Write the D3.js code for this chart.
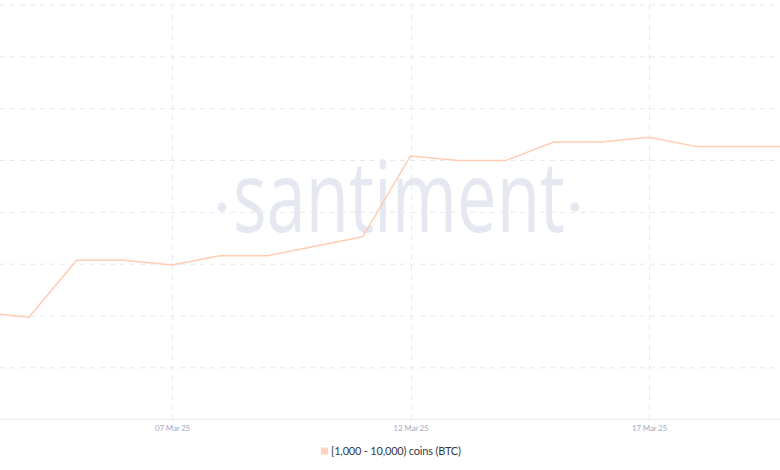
<!DOCTYPE html>
<html>
<head>
<meta charset="utf-8">
<script src="https://cdn.jsdelivr.net/npm/d3@7/dist/d3.min.js"></script>
<style>
  html, body { margin: 0; padding: 0; background: #ffffff; }
  svg { display: block; }
</style>
</head>
<body>
<svg id="chart" width="780" height="470"></svg>
<script>
// ---- data ----
const dates = ["2025-03-03","2025-03-04","2025-03-05","2025-03-06","2025-03-07","2025-03-08",
               "2025-03-09","2025-03-10","2025-03-11","2025-03-12","2025-03-13","2025-03-14",
               "2025-03-15","2025-03-16","2025-03-17","2025-03-18","2025-03-19","2025-03-20"];
const holders = [1970.35, 1969.88, 1975.38, 1975.38, 1974.92, 1975.82,
                 1975.82, 1976.74, 1977.65, 1985.44, 1984.99, 1984.99,
                 1986.79, 1986.79, 1987.24, 1986.34, 1986.34, 1986.34];
const tickDates = ["2025-03-07", "2025-03-12", "2025-03-17"];
const seriesName = "[1,000 - 10,000) coins (BTC)";
const yDomain = [1960, 2000];
const yTicks = [1960, 1965, 1970, 1975, 1980, 1985, 1990, 1995, 2000];

// ---- layout ----
const W = 780, H = 470;
const plotTop = 5, plotBottom = 419.7;
const lineColor = "#ffcdb2";
const gridColor = "#e6e8ef";

const svg = d3.select("#chart");
const parse = d3.utcParse("%Y-%m-%d");
const data = dates.map((d, i) => ({ date: parse(d), value: holders[i] }));

const x = d3.scaleUtc()
  .domain([Date.UTC(2025, 2, 3, 9, 27), Date.UTC(2025, 2, 19, 17, 54)])
  .range([0, W]);
const y = d3.scaleLinear().domain(yDomain).range([plotBottom, plotTop]);

svg.append("defs").append("clipPath").attr("id", "clip")
  .append("rect").attr("x", 0).attr("y", 0).attr("width", W).attr("height", plotBottom);

// horizontal grid
svg.append("g").selectAll("line").data(yTicks.slice(1)).join("line")
  .attr("x1", 0).attr("x2", W)
  .attr("y1", d => y(d)).attr("y2", d => y(d))
  .attr("stroke", gridColor).attr("stroke-width", 1)
  .attr("stroke-dasharray", "5,5");

// vertical grid
svg.append("g").selectAll("line").data(tickDates.map(parse)).join("line")
  .attr("x1", d => Math.round(x(d)) + 0.5).attr("x2", d => Math.round(x(d)) + 0.5)
  .attr("y1", plotTop).attr("y2", plotBottom)
  .attr("stroke", gridColor).attr("stroke-width", 1)
  .attr("stroke-dasharray", "5,5");

// watermark
const wm = svg.append("g").attr("fill", "#e5e8f1");
wm.append("text")
  .attr("x", 233).attr("y", 232)
  .attr("font-family", "'Open Sans', sans-serif")
  .attr("font-weight", 400)
  .attr("font-size", 98)
  .attr("textLength", 332)
  .attr("lengthAdjust", "spacingAndGlyphs")
  .text("santiment");
wm.append("circle").attr("cx", 222).attr("cy", 207).attr("r", 4.5);
wm.append("circle").attr("cx", 575).attr("cy", 207).attr("r", 4.5);

// x axis
const xAxis = d3.axisBottom(x)
  .tickValues(tickDates.map(parse))
  .tickSize(0)
  .tickPadding(6)
  .tickFormat(d3.utcFormat("%d %b %y"));
const gx = svg.append("g").attr("transform", `translate(0,${plotBottom})`).call(xAxis);
gx.select(".domain").remove();
gx.selectAll("text")
  .attr("fill", "#a3abbf")
  .attr("font-family", "Lato, sans-serif")
  .attr("font-size", 8)
  .attr("letter-spacing", -0.2);
svg.append("line")
  .attr("x1", 0).attr("x2", W)
  .attr("y1", plotBottom).attr("y2", plotBottom)
  .attr("stroke", "#e6e8ee").attr("stroke-width", 1);

// line
const line = d3.line().x(d => x(d.date)).y(d => y(d.value));
svg.append("path")
  .datum(data)
  .attr("clip-path", "url(#clip)")
  .attr("fill", "none")
  .attr("stroke", lineColor)
  .attr("stroke-width", 1.5)
  .attr("stroke-linejoin", "round")
  .attr("d", line);

// legend
const lg = svg.append("g").attr("transform", "translate(321,451.5)");
lg.append("rect").attr("x", 0).attr("y", -4).attr("width", 7).attr("height", 7)
  .attr("fill", "#fdd3bf");
lg.append("text").attr("x", 10).attr("y", 0).attr("dy", "0.35em")
  .attr("fill", "#353a47")
  .attr("font-family", "Lato, sans-serif")
  .attr("font-size", 11)
  .attr("letter-spacing", -0.2)
  .text(seriesName);
</script>
</body>
</html>
